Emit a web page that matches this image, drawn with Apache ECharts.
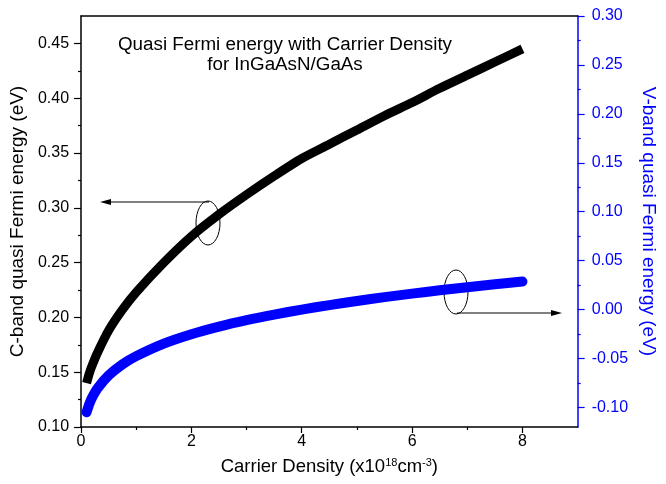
<!DOCTYPE html>
<html>
<head>
<meta charset="utf-8">
<script src="https://cdn.jsdelivr.net/npm/echarts@6/dist/echarts.min.js"></script>
<style>
  html, body { margin: 0; padding: 0; background: #fff; }
  #chart { width: 666px; height: 484px; }
</style>
</head>
<body>
<div id="chart"></div>
<script>
// carrier density (x10^18 cm^-3)
var density = [0.1, 0.15, 0.2, 0.3, 0.5, 0.75, 1, 1.5, 2, 2.5, 3, 3.5, 4, 4.5, 5, 5.5, 6, 6.5, 7, 7.5, 8];
// C-band quasi Fermi energy (eV), left axis
var cBand = [0.140, 0.149, 0.156, 0.168, 0.188, 0.207, 0.223, 0.250, 0.274, 0.294, 0.312, 0.329, 0.345, 0.358, 0.371, 0.384, 0.396, 0.409, 0.421, 0.433, 0.445];
// V-band quasi Fermi energy (eV), right axis
var vBand = [-0.105, -0.0965, -0.090, -0.0805, -0.0673, -0.056, -0.0476, -0.0348, -0.0252, -0.0174, -0.0108, -0.0051, 0.000, 0.0046, 0.0088, 0.0127, 0.0163, 0.0197, 0.0229, 0.0258, 0.0286];

// tick labels
var xMajor = [0, 2, 4, 6, 8];
var xMinor = [1, 3, 5, 7];
var leftMajor = [0.10, 0.15, 0.20, 0.25, 0.30, 0.35, 0.40, 0.45];
var leftMinor = [0.125, 0.175, 0.225, 0.275, 0.325, 0.375, 0.425];
var rightMajor = [-0.10, -0.05, 0.00, 0.05, 0.10, 0.15, 0.20, 0.25, 0.30];
var rightMinor = [-0.075, -0.025, 0.025, 0.075, 0.125, 0.175, 0.225, 0.275];

var font = 'Liberation Sans, Arial, sans-serif';
var blue = '#0000ff';

function pairs(xs, ys) {
  var res = [];
  for (var i = 0; i < xs.length; i++) {
    res.push([xs[i], ys[i]]);
  }
  return res;
}

var chart = echarts.init(document.getElementById('chart'));

var option = {
  animation: false,
  backgroundColor: '#fff',
  grid: { left: 80, right: 79, top: 16, bottom: 57 },
  xAxis: [
    {
      type: 'value', min: 0, max: 9, position: 'bottom',
      axisLine: { onZero: false, lineStyle: { color: '#000', width: 1.5 } },
      name: '{a|Carrier Density (x10}{s|18}{a|cm}{s|-3}{a|)}',
      nameLocation: 'middle', nameGap: 30,
      nameTextStyle: {
        rich: {
          a: { fontSize: 18.5, fontFamily: font, color: '#000' },
          s: { fontSize: 11, fontFamily: font, color: '#000', padding: [0, 0, 9, 0] }
        }
      },
      axisTick: { length: 6, customValues: xMajor, lineStyle: { color: '#000', width: 1.2 } },
      axisLabel: { customValues: xMajor, margin: 7, fontSize: 16, fontFamily: font, color: '#000' },
      splitLine: { show: false }
    },
    {
      type: 'value', min: 0, max: 9, position: 'bottom',
      axisLine: { show: false, onZero: false },
      axisTick: { length: 3, customValues: xMinor, lineStyle: { color: '#000', width: 1.2 } },
      axisLabel: { show: false },
      splitLine: { show: false }
    },
    {
      type: 'value', min: 0, max: 9, position: 'top',
      axisLine: { onZero: false, lineStyle: { color: '#000', width: 1.5 } },
      axisTick: { show: false },
      axisLabel: { show: false },
      splitLine: { show: false }
    }
  ],
  yAxis: [
    {
      type: 'value', min: 0.10, max: 0.475, position: 'left',
      name: 'C-band quasi Fermi energy (eV)',
      nameLocation: 'middle', nameGap: 45,
      nameTextStyle: { fontSize: 19, fontFamily: font, color: '#000' },
      axisLine: { show: true, onZero: false, lineStyle: { color: '#000', width: 1.5 } },
      axisTick: { length: 7, customValues: leftMajor, lineStyle: { color: '#000', width: 1.2 } },
      axisLabel: {
        customValues: leftMajor, margin: 12, fontSize: 16, fontFamily: font, color: '#000',
        formatter: function (v) { return v.toFixed(2); }
      },
      splitLine: { show: false }
    },
    {
      type: 'value', min: 0.10, max: 0.475, position: 'left',
      axisLine: { show: false, onZero: false },
      axisTick: { length: 3, customValues: leftMinor, lineStyle: { color: '#000', width: 1.2 } },
      axisLabel: { show: false },
      splitLine: { show: false }
    },
    {
      type: 'value', min: -0.12, max: 0.30, position: 'right',
      name: 'V-band quasi Fermi energy (eV)',
      nameLocation: 'middle', nameGap: 48, nameRotate: -90,
      nameTextStyle: { fontSize: 19, fontFamily: font, color: blue },
      axisLine: { show: true, onZero: false, lineStyle: { color: blue, width: 1.5 } },
      axisTick: { length: 7, customValues: rightMajor, lineStyle: { color: blue, width: 1.2 } },
      axisLabel: {
        customValues: rightMajor, margin: 14, fontSize: 16, fontFamily: font, color: blue,
        formatter: function (v) { return v.toFixed(2); }
      },
      splitLine: { show: false }
    },
    {
      type: 'value', min: -0.12, max: 0.30, position: 'right',
      axisLine: { show: false, onZero: false },
      axisTick: { length: 3, customValues: rightMinor, lineStyle: { color: blue, width: 1.2 } },
      axisLabel: { show: false },
      splitLine: { show: false }
    }
  ],
  series: [
    {
      name: 'C-band',
      type: 'line',
      xAxisIndex: 0,
      yAxisIndex: 0,
      data: pairs(density, cBand),
      smooth: 0.25,
      showSymbol: false,
      lineStyle: { color: '#000', width: 9, cap: 'butt' }
    },
    {
      name: 'V-band',
      type: 'line',
      xAxisIndex: 0,
      yAxisIndex: 2,
      data: pairs(density, vBand),
      smooth: 0.25,
      showSymbol: false,
      lineStyle: { color: blue, width: 10, cap: 'round' }
    }
  ],
  graphic: [
    { type: 'text', style: { x: 285, y: 45, text: 'Quasi Fermi energy with Carrier Density', textAlign: 'center', textVerticalAlign: 'middle', fontSize: 18.8, fontFamily: font, fill: '#000' } },
    { type: 'text', style: { x: 285, y: 65, text: 'for InGaAsN/GaAs', textAlign: 'center', textVerticalAlign: 'middle', fontSize: 18.8, fontFamily: font, fill: '#000' } },
    // 左侧注释：椭圆+箭头
    { type: 'ellipse', shape: { cx: 208, cy: 223, rx: 12, ry: 22 }, style: { fill: 'none', stroke: '#000', lineWidth: 1 } },
    { type: 'line', shape: { x1: 209, y1: 202, x2: 106, y2: 202 }, style: { stroke: '#000', lineWidth: 1 } },
    { type: 'polygon', shape: { points: [[100, 202], [111, 199], [111, 205]] }, style: { fill: '#000' } },
    // 右侧注释
    { type: 'ellipse', shape: { cx: 456, cy: 292, rx: 12, ry: 22 }, style: { fill: 'none', stroke: '#000', lineWidth: 1 } },
    { type: 'line', shape: { x1: 457, y1: 313, x2: 556, y2: 313 }, style: { stroke: '#000', lineWidth: 1 } },
    { type: 'polygon', shape: { points: [[562, 313], [551, 310], [551, 316]] }, style: { fill: '#000' } }
  ]
};
chart.setOption(option);
</script>
</body>
</html>
